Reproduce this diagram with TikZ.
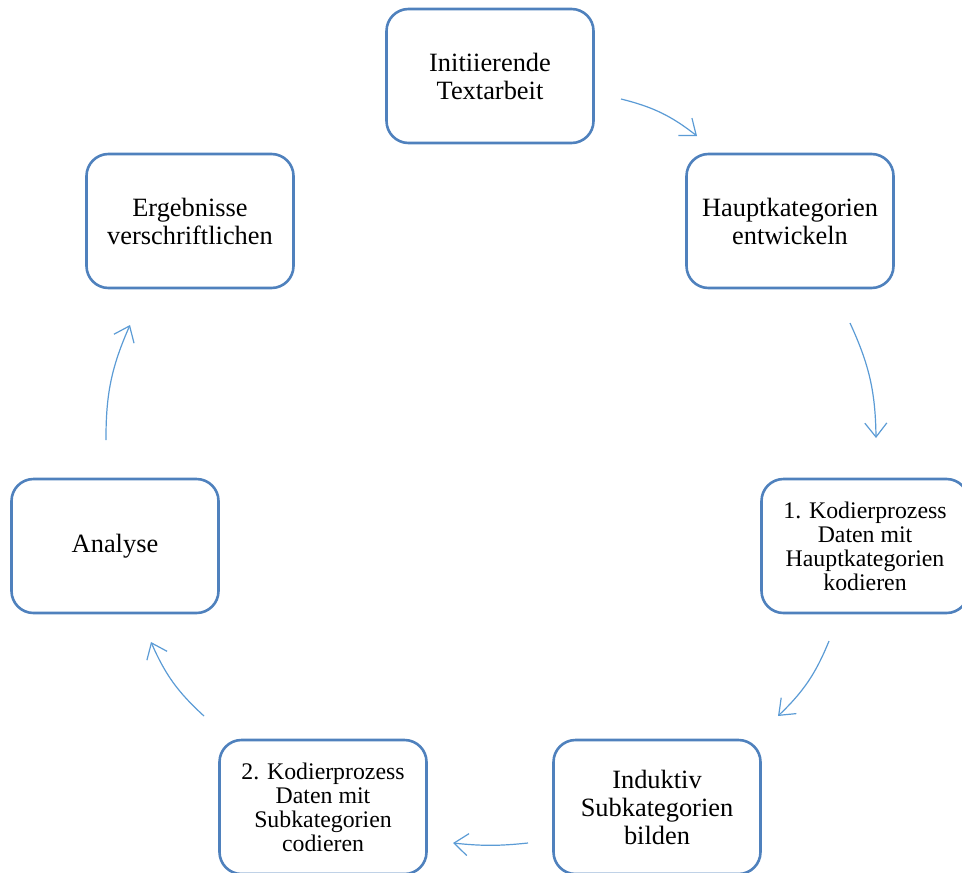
\documentclass[tikz,border=0pt]{standalone}
\usepackage{fontspec}
\setmainfont{Liberation Serif}
\usetikzlibrary{arrows.meta}
\definecolor{boxblue}{RGB}{79,129,189}
\definecolor{arrblue}{RGB}{91,155,213}

\begin{document}
\begin{tikzpicture}[x=0.5pt,y=-0.5pt,
  stage/.style={draw=boxblue,line width=1.3pt,rounded corners=11pt,fill=white,
    minimum width=103.5pt,minimum height=67pt,inner sep=0pt,align=center,
    font=\fontsize{13.2}{14}\selectfont},
  small/.style={font=\fontsize{11.9}{12}\selectfont},
  flow/.style={draw=arrblue,line width=0.6pt,bend left=12,
    -{Straight Barb[length=7pt,width=11pt]}}]
  \useasboundingbox (0,0) rectangle (962,872);
  \clip (0,0) rectangle (962,872);
  % stages of the cycle
  \node[stage] (init) at (490,76) {Initiierende\\Textarbeit};
  \node[stage] (haupt) at (790,221) {Hauptkategorien\\entwickeln};
  \node[stage,small] (kod1) at (865,546) {1. Kodierprozess\\Daten mit\\Hauptkategorien\\kodieren};
  \node[stage] (induk) at (657,807) {Induktiv\\Subkategorien\\bilden};
  \node[stage,small] (kod2) at (323,807) {2. Kodierprozess\\Daten mit\\Subkategorien\\codieren};
  \node[stage] (analyse) at (115,546) {Analyse};
  \node[stage] (ergeb) at (190,221) {Ergebnisse\\verschriftlichen};
  % arrow ends
  \coordinate (a1s) at (621,99);  \coordinate (a1e) at (697,136);
  \coordinate (a2s) at (850,323); \coordinate (a2e) at (876,438);
  \coordinate (a3s) at (829,641); \coordinate (a3e) at (778,716);
  \coordinate (a4s) at (528,843); \coordinate (a4e) at (453,843);
  \coordinate (a5s) at (204,716); \coordinate (a5e) at (151,642);
  \coordinate (a6s) at (106,440); \coordinate (a6e) at (130,325);
  \draw[flow] (a1s) to (a1e);
  \draw[flow] (a2s) to (a2e);
  \draw[flow] (a3s) to (a3e);
  \draw[flow,bend left=6] (a4s) to (a4e);
  \draw[flow] (a5s) to (a5e);
  \draw[flow] (a6s) to (a6e);
\end{tikzpicture}
\end{document}
